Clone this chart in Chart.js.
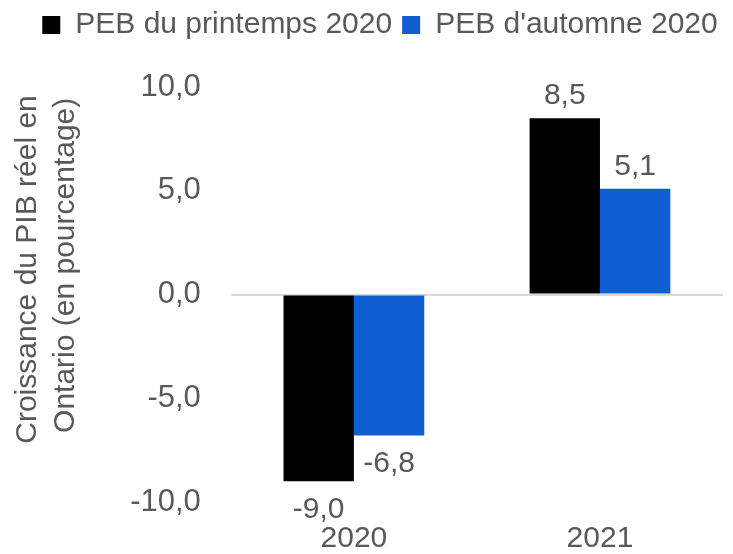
<!DOCTYPE html>
<html>
<head>
<meta charset="utf-8">
<script src="https://cdn.jsdelivr.net/npm/chart.js@4"></script>
<style>
  html, body { margin: 0; padding: 0; background: #fff; }
  #wrap { width: 733px; height: 554px; }
</style>
</head>
<body>
<div id="wrap"><canvas id="barChart" width="733" height="554"></canvas></div>
<script>
const categories = ['2020', '2021'];
const seriesNames = ['PEB du printemps 2020', "PEB d'automne 2020"];
const springValues = [-9.0, 8.5];
const autumnValues = [-6.8, 5.1];
const yTicks = [-10, -5, 0, 5, 10];
const yTitle = ['Croissance du PIB réel en', 'Ontario (en pourcentage)'];

const grey = '#595959';
const family = '"Liberation Sans", Arial, sans-serif';
const fmt = v => v.toFixed(1).replace('.', ',');
// nbsp padding nudges the rotated title up a little, like the original
const pad = n => '\u00a0'.repeat(n);

// value labels above / below each bar
const valueLabels = {
    id: 'valueLabels',
    afterDatasetsDraw(chart) {
        const ctx = chart.ctx;
        ctx.save();
        ctx.font = '30px ' + family;
        ctx.fillStyle = grey;
        ctx.textAlign = 'center';
        chart.data.datasets.forEach((ds, i) => {
            chart.getDatasetMeta(i).data.forEach((bar, j) => {
                const v = ds.data[j];
                if (v >= 0) {
                    ctx.textBaseline = 'alphabetic';
                    ctx.fillText(fmt(v), bar.x, bar.y - 14);
                } else {
                    ctx.textBaseline = 'top';
                    ctx.fillText(fmt(v), bar.x, bar.y + 13);
                }
            });
        });
        ctx.restore();
    }
};

// move the legend: a bit right, and up into the top padding
const legendShift = {
    id: 'legendShift',
    afterLayout(chart) {
        const lg = chart.legend;
        if (lg) {
            lg.left += 14;
            lg.right += 14;
            lg.top -= 37;
            lg.bottom -= 37;
        }
    }
};

new Chart(document.getElementById('barChart'), {
    type: 'bar',
    data: {
        labels: categories,
        datasets: [{
            label: seriesNames[0],
            data: springValues,
            backgroundColor: '#000000',
            barPercentage: 1,
            categoryPercentage: 0.572
        }, {
            label: seriesNames[1],
            data: autumnValues,
            backgroundColor: '#0F5FD3',
            barPercentage: 1,
            categoryPercentage: 0.572
        }]
    },
    options: {
        responsive: false,
        animation: false,
        layout: { padding: { top: 37, right: 10, left: 9, bottom: -14 } },
        plugins: {
            legend: {
                position: 'top',
                labels: {
                    boxWidth: 18,
                    boxHeight: 18,
                    padding: 10,
                    color: grey,
                    font: { size: 30, family: family }
                }
            },
            tooltip: { enabled: false }
        },
        scales: {
            x: {
                grid: { display: false },
                border: { display: false },
                ticks: {
                    color: grey,
                    padding: 14,
                    font: { size: 30, family: family, lineHeight: 1 }
                }
            },
            y: {
                min: -10,
                max: 10,
                afterBuildTicks: axis => { axis.ticks = yTicks.map(v => ({ value: v })); },
                border: { display: false },
                grid: {
                    drawTicks: false,
                    lineWidth: 2,
                    color: c => c.tick && c.tick.value === 0 ? '#D9D9D9' : 'rgba(0,0,0,0)'
                },
                ticks: {
                    color: grey,
                    padding: 30,
                    font: { size: 31, family: family },
                    callback: v => fmt(v)
                },
                title: {
                    display: true,
                    text: [pad(6) + yTitle[0], pad(7) + yTitle[1]],
                    color: grey,
                    padding: { top: 0, bottom: 15 },
                    font: { size: 30, family: family, lineHeight: 1.27 }
                }
            }
        }
    },
    plugins: [valueLabels, legendShift]
});
</script>
</body>
</html>
